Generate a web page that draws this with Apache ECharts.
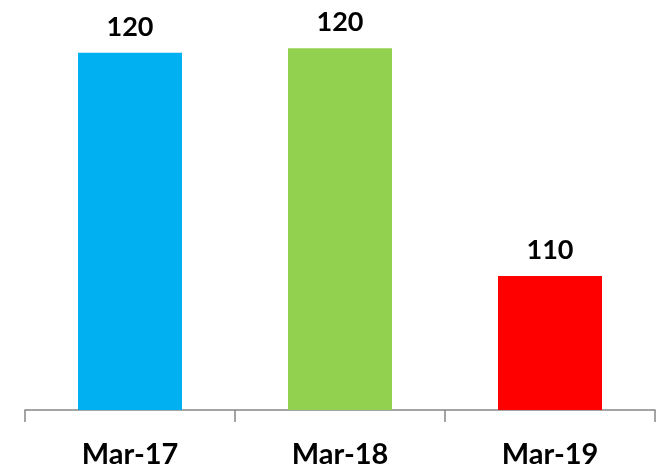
<!DOCTYPE html>
<html>
<head>
<meta charset="utf-8">
<script src="https://cdn.jsdelivr.net/npm/echarts@6/dist/echarts.min.js"></script>
<style>
  html, body { margin: 0; padding: 0; background: #fff; }
  #chart { width: 658px; height: 471px; }
</style>
</head>
<body>
<div id="chart"></div>
<script>
// data
const categories = ['Mar-17', 'Mar-18', 'Mar-19'];
const values = [120, 120.2, 110];
const labels = ['120', '120', '110'];
const barColors = ['#00B0F0', '#92D050', '#FF0000'];

const chart = echarts.init(document.getElementById('chart'));

chart.setOption({
    animation: false,
    grid: { top: 8, left: 25, right: 3, bottom: 61 },
    xAxis: {
        type: 'category',
        data: categories,
        axisLine: { lineStyle: { color: '#868686', width: 1.5 } },
        axisTick: { show: true, length: 12, lineStyle: { color: '#868686', width: 1.5 } },
        axisLabel: {
            color: '#000',
            fontSize: 29,
            fontWeight: 'bold',
            fontFamily: 'Lato',
            margin: 30
        }
    },
    yAxis: {
        type: 'value',
        min: 104,
        max: 122,
        show: false,
        splitLine: { show: false }
    },
    series: [{
        type: 'bar',
        barWidth: 104,
        data: values.map((v, i) => ({ value: v, itemStyle: { color: barColors[i] } })),
        label: {
            show: true,
            position: 'top',
            distance: 12,
            color: '#000',
            fontSize: 27,
            fontWeight: 'bold',
            fontFamily: 'Lato',
            formatter: p => labels[p.dataIndex]
        }
    }]
});
</script>
</body>
</html>
